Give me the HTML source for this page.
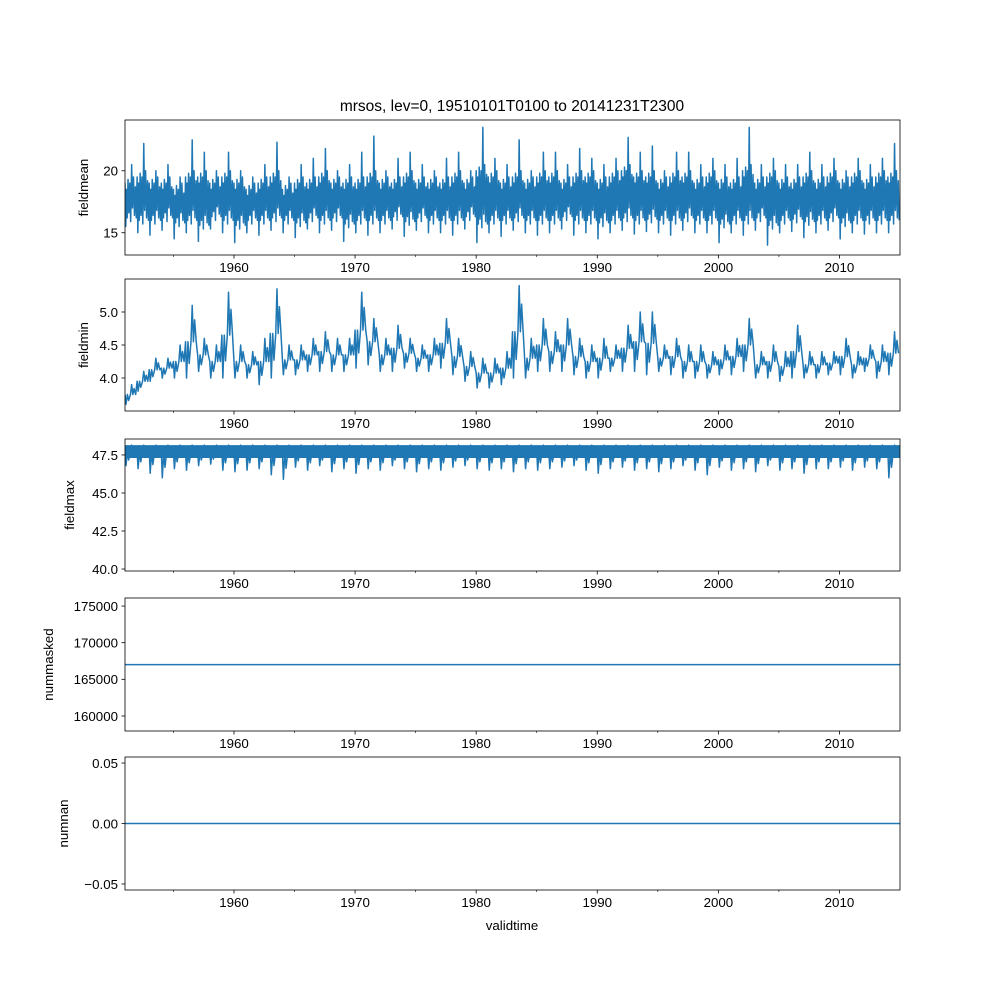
<!DOCTYPE html>
<html><head><meta charset="utf-8"><style>
html,body{margin:0;padding:0;background:#fff;}
svg{display:block;font-family:"Liberation Sans","DejaVu Sans",sans-serif;}
</style></head><body>
<svg id="fig" width="1000" height="1000" viewBox="0 0 1000 1000" xmlns="http://www.w3.org/2000/svg">
<text x="512" y="111" font-size="15.5" text-anchor="middle">mrsos, lev=0, 19510101T0100 to 20141231T2300</text>
<text x="512" y="930" font-size="13.3" text-anchor="middle">validtime</text>
</svg>
<script>
// ---- data (per year 1951..2014) ----
const years = [];
for (let y = 1951; y <= 2014; y++) years.push(y);
const meanHi = [20.5,22.2,20,20.5,19.5,22.5,21.5,20,21.5,20,19.5,20.5,22.3,19.5,20.5,21,21.8,20,20.5,21.5,22.8,20,21,21.5,20.5,20,21,21.5,20,23.5,21,20.5,22.5,20,21.5,21.5,20.5,21.8,21,20.5,21,22.7,21.5,22,20,21.5,21.5,20.5,21,20.5,21,23.5,20.5,21,20.5,20.5,21.5,20.5,21,20,21,20.5,21,22.2];
const meanLo = [15.5,15,14.8,15.2,14.5,15,14.3,15.3,15,14.2,15,14.8,15.2,15,14.6,15.3,15,15.2,14.3,15,14.8,15,15.3,14.7,15.2,15,15,14.8,15.3,14.2,15,14.7,15.2,15,14.8,15,15.3,14.8,15,14.5,15,15.2,14.9,15.1,15,14.8,15.2,15,15,14.2,15,14.8,15.2,14,15,15.1,14.6,15,15.2,14.5,15,14.9,15,15];
const meanCoreHi = [19,19.5,19,19,18.5,19.5,19.5,19,19.5,19,18.5,19,19.5,18.5,19,19,19.5,19,19,19,19.5,19,19,19.5,19,19,19,19.5,19,20,19.5,19,19.5,19,19.5,19.5,19,19.5,19.5,19,19.5,20,19.5,19.5,19,19.5,19.5,19,19.5,19,19,20,19,19.5,19,19,19.5,19,19.5,19,19.5,19,19.5,19.5];
const meanCoreLo = [16.2,16,16,16.2,15.8,16,15.6,16.3,16,15.6,16,16,16.2,16,15.8,16.2,16,16.2,15.7,16,16,16,16.3,15.9,16.2,16,16,16,16.3,15.7,16,16,16.2,16,16,16,16.3,16,16,15.8,16,16.2,16,16.1,16,16,16.2,16,16,15.7,16,16,16.2,15.6,16,16.1,15.9,16,16.2,15.8,16,16,16,16];
const minHi = [3.9,4.1,4.3,4.3,4.5,5.1,4.6,4.5,5.3,4.5,4.4,4.6,5.35,4.5,4.5,4.6,4.7,4.6,4.6,5.3,4.9,4.6,4.8,4.6,4.5,4.6,4.9,4.6,4.4,4.3,4.3,4.4,5.4,4.6,4.9,4.7,4.9,4.6,4.5,4.6,4.5,4.8,5.0,5.0,4.5,4.6,4.5,4.5,4.4,4.5,4.6,4.9,4.4,4.5,4.4,4.8,4.4,4.4,4.4,4.6,4.4,4.5,4.5,4.7];
const minLo = [3.6,3.8,3.95,4.0,4.0,4.0,4.1,4.0,4.0,4.0,4.0,3.9,4.0,4.05,4.05,4.1,4.1,4.1,4.1,4.15,4.2,4.1,4.1,4.15,4.1,4.1,4.15,4.05,3.95,3.85,3.85,3.9,4.0,4.0,4.1,4.1,4.1,4.05,4.0,4.0,4.1,4.1,4.1,4.05,4.1,4.05,4.0,4.0,4.0,4.05,4.05,4.1,4.0,4.0,3.95,4.0,4.0,4.0,4.05,4.05,4.0,4.1,4.0,4.05];
const maxHi = years.map(() => 48.15);
const maxLo = [46.8,46.6,46.3,46.0,46.6,46.5,46.8,46.9,46.5,46.4,46.5,46.6,46.2,45.9,46.7,46.5,46.8,46.4,46.6,46.3,46.6,46.5,46.8,46.6,46.4,46.6,46.5,46.7,46.8,46.6,46.5,46.6,46.4,46.6,46.5,46.6,46.7,46.8,46.5,46.3,46.6,46.7,46.5,46.6,46.4,46.6,46.8,46.5,46.2,46.7,46.5,46.6,46.4,46.8,46.5,46.6,46.3,46.6,46.6,46.7,46.5,46.7,46.6,46.0];
const maxCoreLo = years.map(() => 47.3);
const nummaskedValue = [167000];
const numnanValue = [0];
const xTicks = [1960,1970,1980,1990,2000,2010];
const xMinor = [1955,1965,1975,1985,1995,2005];
const panelNames = ['fieldmean','fieldmin','fieldmax','nummasked','numnan'];
const panelYTicks = [[15,20],[4.0,4.5,5.0],[40.0,42.5,45.0,47.5],[160000,165000,170000,175000],[-0.05,0.00,0.05]];
const panelYLabels = [['15','20'],['4.0','4.5','5.0'],['40.0','42.5','45.0','47.5'],['160000','165000','170000','175000'],['−0.05','0.00','0.05']];
const panelYDomain = [[13.2,24.1],[3.5,5.5],[39.87,48.55],[157950,176100],[-0.055,0.055]];

const NS = 'http://www.w3.org/2000/svg';
const svg = document.getElementById('fig');
const L = 125, R = 900;
const tops = [120,279,439,598,757], bots = [255,411,571,731,890];
const labelX = [84,84,70,49,64];
const C = '#1f77b4';
const xs = t => L + (t - 1951.0) / (2015.0 - 1951.0) * (R - L);
function el(tag, attrs, parent) {
  const e = document.createElementNS(NS, tag);
  for (const k in attrs) e.setAttribute(k, attrs[k]);
  (parent || svg).appendChild(e);
  return e;
}
panelNames.forEach((name, i) => {
  const T = tops[i], B = bots[i], [d0, d1] = panelYDomain[i];
  const ys = v => B - (v - d0) / (d1 - d0) * (B - T);
  const g = el('g', {});
  
  
  const cid = 'clip' + i;
  const cp = el('clipPath', {id: cid}, g);
  el('rect', {x: L, y: T, width: R - L, height: B - T}, cp);
  const series = el('g', {'clip-path': 'url(#' + cid + ')'}, g);
  
  
  let hi = null, lo = null, cHi = null, cLo = null, fillBand = false;
  if (i === 0) { hi = meanHi; lo = meanLo; cHi = meanCoreHi; cLo = meanCoreLo; }
  if (i === 1) { hi = minHi; lo = minLo; }
  if (i === 2) { hi = maxHi; lo = maxLo; cHi = maxHi; cLo = maxCoreLo; fillBand = true; }
  if (hi) {
    if (fillBand) {
      let p = '';
      years.forEach((y, k) => { p += (k ? 'L' : 'M') + xs(y) + ',' + ys(cHi[k]) + 'L' + xs(y + 1) + ',' + ys(cHi[k]); });
      for (let k = years.length - 1; k >= 0; k--) p += 'L' + xs(years[k] + 1) + ',' + ys(cLo[k]) + 'L' + xs(years[k]) + ',' + ys(cLo[k]);
      const band = el('path', {d: p + 'Z', fill: C}, series);
      
      
    }
    let p = '';
    years.forEach((y, k) => {
      if (i === 0) {
        const a = cLo[k], b = cHi[k];
        p += (k ? 'L' : 'M') + xs(y) + ',' + ys(b);
        p += 'L' + xs(y + 0.06) + ',' + ys(lo[k]);
        p += 'L' + xs(y + 0.12) + ',' + ys(b - 0.5);
        p += 'L' + xs(y + 0.18) + ',' + ys(a);
        p += 'L' + xs(y + 0.25) + ',' + ys(b + 0.3);
        p += 'L' + xs(y + 0.32) + ',' + ys(a + 0.4);
        p += 'L' + xs(y + 0.4) + ',' + ys(b);
        p += 'L' + xs(y + 0.47) + ',' + ys(a - 0.3);
        p += 'L' + xs(y + 0.55) + ',' + ys(hi[k]);
        p += 'L' + xs(y + 0.62) + ',' + ys(a + 0.8);
        p += 'L' + xs(y + 0.7) + ',' + ys(b + 0.5);
        p += 'L' + xs(y + 0.78) + ',' + ys(a + 0.2);
        p += 'L' + xs(y + 0.86) + ',' + ys(b - 0.3);
        p += 'L' + xs(y + 0.93) + ',' + ys(a);
      } else {
        const mid = cHi ? (cHi[k] + cLo[k]) / 2 : (hi[k] + lo[k]) / 2;
        p += (k ? 'L' : 'M') + xs(y) + ',' + ys(mid);
        p += 'L' + xs(y + 0.08) + ',' + ys(lo[k]);
        p += 'L' + xs(y + 0.2) + ',' + ys(mid);
        p += 'L' + xs(y + 0.3) + ',' + ys(lo[k] + (mid - lo[k]) * 0.4);
        p += 'L' + xs(y + 0.45) + ',' + ys(mid);
        p += 'L' + xs(y + 0.55) + ',' + ys(hi[k]);
        p += 'L' + xs(y + 0.65) + ',' + ys(mid);
        p += 'L' + xs(y + 0.75) + ',' + ys(hi[k] - (hi[k] - mid) * 0.4);
        p += 'L' + xs(y + 0.88) + ',' + ys(mid);
      }
    });
    const line = el('path', {d: p, fill: 'none', stroke: C, 'stroke-width': 1.5, 'stroke-linejoin': 'round'}, series);
    
    
  } else {
    const v = i === 3 ? nummaskedValue[0] : numnanValue[0];
    const line = el('line', {x1: L, x2: R, y1: ys(v), y2: ys(v), stroke: C, 'stroke-width': 1.5}, series);
    
    
  }
  const frame = el('rect', {x: L, y: T, width: R - L, height: B - T, fill: 'none', stroke: '#000', 'stroke-width': 0.8}, g);
  
  
  xTicks.forEach(t => {
    el('line', {x1: xs(t), x2: xs(t), y1: B, y2: B + 3.5, stroke: '#000', 'stroke-width': 0.8}, g);
    const tx = el('text', {x: xs(t), y: B + 17, 'font-size': 13.3, 'text-anchor': 'middle'}, g);
    tx.textContent = t;
    
    
  });
  xMinor.forEach(t => el('line', {x1: xs(t), x2: xs(t), y1: B, y2: B + 2, stroke: '#000', 'stroke-width': 0.6}, g));
  panelYTicks[i].forEach((v, k) => {
    el('line', {x1: L - 3.5, x2: L, y1: ys(v), y2: ys(v), stroke: '#000', 'stroke-width': 0.8}, g);
    const tx = el('text', {x: L - 7, y: ys(v) + 4.8, 'font-size': 13.3, 'text-anchor': 'end'}, g);
    tx.textContent = panelYLabels[i][k];
    
    
  });
  const yl = el('text', {x: 0, y: 0, 'font-size': 13.3, 'text-anchor': 'middle', transform: 'translate(' + (labelX[i] + 4) + ',' + ((T + B) / 2) + ') rotate(-90)'}, g);
  yl.textContent = name;
  
  
});
</script>
</body></html>
